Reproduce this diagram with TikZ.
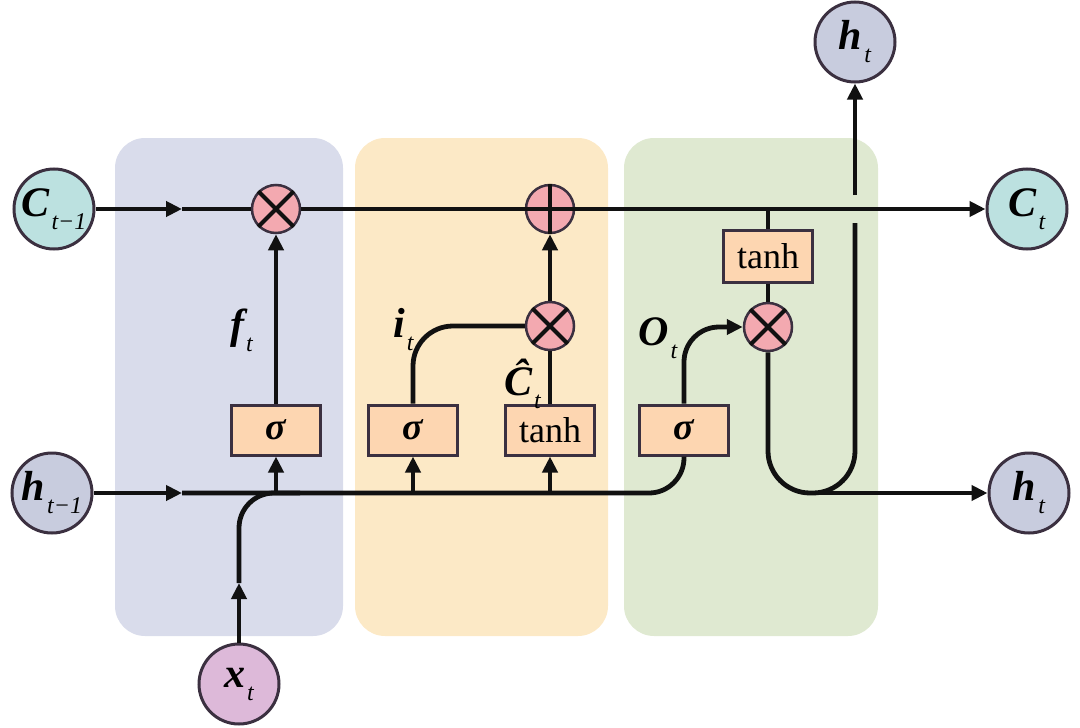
\documentclass[tikz,border=0pt]{standalone}
\usepackage{fontspec}
\setmainfont{Liberation Serif}
\newfontfamily\tnr{Liberation Serif}
\usetikzlibrary{arrows.meta}
\definecolor{bluepanel}{HTML}{D9DCEB}
\definecolor{yellowpanel}{HTML}{FCE9C6}
\definecolor{greenpanel}{HTML}{DFE9D1}
\definecolor{tealc}{HTML}{BCE1E0}
\definecolor{grayc}{HTML}{C8CCDE}
\definecolor{pinkc}{HTML}{DDB9D9}
\definecolor{opc}{HTML}{F3A9B0}
\definecolor{boxc}{HTML}{FDD6B1}
\definecolor{edgec}{HTML}{3B3040}
\definecolor{wirec}{HTML}{111111}
\newcommand\lbl[2]{{\tnr\fontsize{42}{42}\selectfont\bfseries\itshape #1}\kern2pt\raisebox{-13pt}{\tnr\fontsize{24}{24}\selectfont\itshape #2}}
\tikzset{
  panel/.style={rounded corners=30pt, draw=none},
  io/.style={circle, draw=edgec, line width=3pt, minimum size=80pt, inner sep=0pt},
  op/.style={circle, draw=edgec, fill=opc, line width=2.5pt, minimum size=48pt, inner sep=0pt},
  gate/.style={draw=edgec, fill=boxc, line width=3pt, minimum width=89pt, minimum height=50pt, inner sep=0pt},
  wire/.style={line width=4.8pt, draw=wirec},
  arr/.style={wire, -{Triangle[length=16pt,width=15pt]}},
  crossl/.style={line width=4pt, draw=wirec},
  gtext/.style={font=\tnr\fontsize{36}{36}\selectfont},
  stext/.style={font=\tnr\fontsize{38}{38}\selectfont\bfseries\itshape},
  lab/.style={anchor=base west, inner sep=0pt}
}
\begin{document}
\begin{tikzpicture}[x=1pt,y=-1pt]
\useasboundingbox (0,0) rectangle (1080,728);
% panels
\fill[bluepanel, panel] (115,138) rectangle (343,636);
\fill[yellowpanel, panel] (355,138) rectangle (608,636);
\fill[greenpanel, panel] (624,138) rectangle (878,636);
% io circles
\node[io, fill=tealc] (ctm1) at (54,209) {\lbl{C}{t−1}};
\node[io, fill=grayc] (htm1) at (52,493) {\lbl{h}{t−1}};
\node[io, fill=pinkc] (xt) at (239,684) {\lbl{x}{t}};
\node[io, fill=grayc] (htop) at (855,42) {\lbl{h}{t}};
\node[io, fill=tealc] (ct) at (1027,209) {\lbl{C}{t}};
\node[io, fill=grayc] (htr) at (1029,493) {\lbl{h}{t}};
% operators
\node[op] (m1) at (276,209) {};
\node[op] (pl) at (550,209) {};
\node[op] (m2) at (550,326) {};
\node[op] (m3) at (768,327) {};
% gates
\node[gate, stext] (s1) at (276,430) {σ};
\node[gate, stext] (s2) at (413,430) {σ};
\node[gate, gtext] (tb) at (550,430) {tanh};
\node[gate, stext] (s3) at (684,430) {σ};
\node[gate, gtext, minimum height=52pt] (tT) at (768,256) {tanh};
% labels
\node[lab] (lf) at (230,338) {\lbl{f}{t}};
\node[lab] (li) at (393,337) {\lbl{i}{t}};
\node[lab] (lc) at (504,395) {\lbl{Ĉ}{t}};
\node[lab] (lo) at (638,345) {\lbl{O}{t}};
% free ends
\coordinate (cA) at (182,209);
\coordinate (hA) at (182,493);
\coordinate (xA) at (239,583);
\coordinate (xB) at (300,493);
\coordinate (uL) at (768,493);
\coordinate (uR) at (855,493);
\coordinate (uT) at (855,223);
\coordinate (hB) at (812,493);
\coordinate (hC) at (855,195);
% C line
\draw[arr] (ctm1) -- (cA);
\draw[wire] (cA) -- (m1);
\draw[wire] (m1) -- (pl);
\draw[arr] (pl) -- (ct);
\draw[wire] (tT.north) -- (tT.north |- pl);
% h line
\draw[arr] (htm1) -- (hA);
\draw[wire, rounded corners=35pt] (hA) -| (s3.south);
\draw[arr] (xt) -- (xA);
\draw[wire, rounded corners=35pt] (xA) |- (xB);
\draw[arr] (s1.south |- hA) -- (s1.south);
\draw[arr] (s2.south |- hA) -- (s2.south);
\draw[arr] (tb.south |- hA) -- (tb.south);
% gate outputs
\draw[arr] (s1.north) -- (m1.south);
\draw[wire, rounded corners=40pt] (s2.north) |- (m2.west);
\draw[wire] (tb.north) -- (m2.south);
\draw[arr] (m2.north) -- (pl.south);
\draw[arr, rounded corners=35pt] (s3.north) |- (m3.west);
\draw[wire] (tT.south) -- (m3.north);
% output
\draw[wire, rounded corners=42pt] (m3.south) -- (uL) -- (uR) -- (uT);
\draw[arr] (hB) -- (htr);
\draw[arr] (hC) -- (htop);
% operator symbols
\foreach \n in {m1,m2,m3} {\draw[crossl] (\n.45) -- (\n.225) (\n.135) -- (\n.315);}
\draw[crossl] (pl.north) -- (pl.south) (pl.west) -- (pl.east);
\end{tikzpicture}
\end{document}
